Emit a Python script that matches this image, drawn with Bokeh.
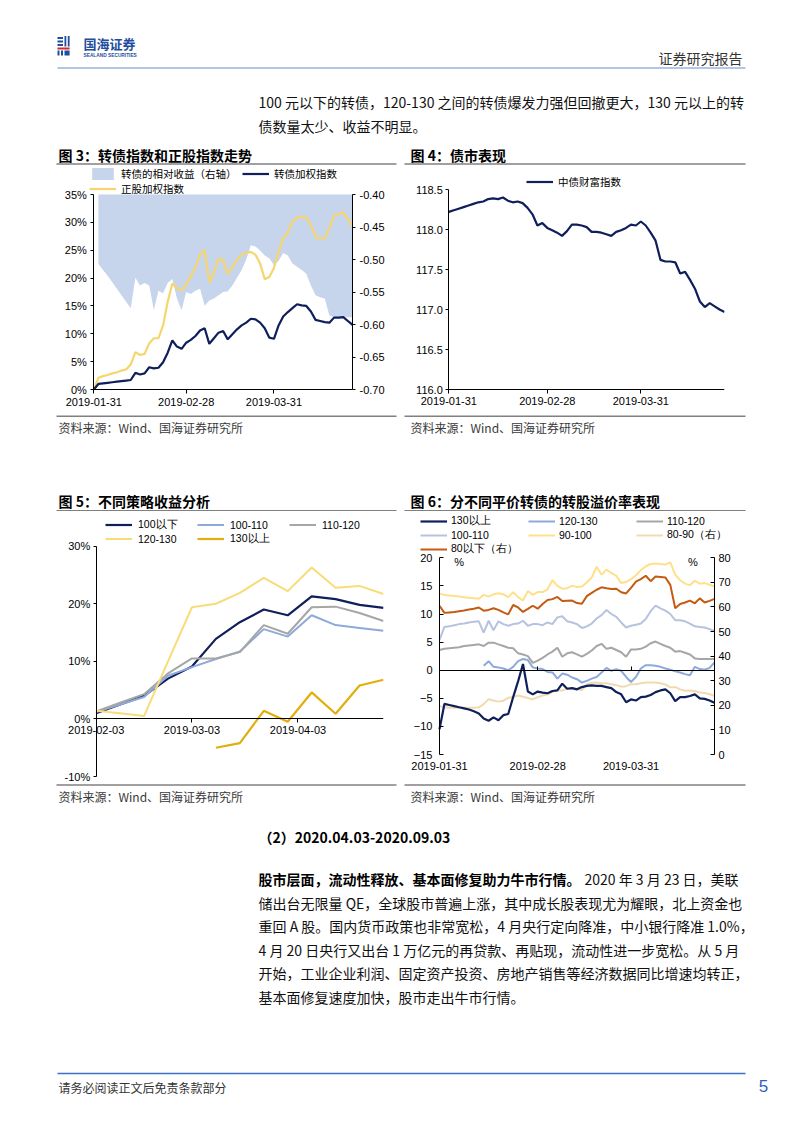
import numpy as np
import pandas as pd
from bokeh.plotting import figure
from bokeh.layouts import column, row
from bokeh.models import (Range1d, LinearAxis, FixedTicker, PrintfTickFormatter,
                          NumeralTickFormatter, Legend, LegendItem, Label,
                          DatetimeTickFormatter)
from bokeh.embed import file_html
from bokeh.resources import INLINE
from bokeh.core.properties import value

NAN = float("nan")

# ---------------- data: daily charts (fig 3, 4, 6) ----------------
n_days = 57
day_tick_index = [0, 20, 39]
day_tick_labels = ["2019-01-31", "2019-02-28", "2019-03-31"]

# fig 3 (%), relative return (right axis, from day 1)
cb_index = [0.0, 1.0, 1.1, 1.2, 1.3, 1.4, 1.5, 1.6, 1.7, 3.0, 2.7, 2.9, 4.0, 3.8, 3.9, 4.9,
            6.6, 8.8, 7.7, 7.3, 8.4, 8.9, 9.6, 10.6, 11.0, 8.2, 9.2, 10.2, 10.5, 9.0, 9.9,
            10.8, 11.5, 12.0, 12.7, 12.6, 12.0, 11.0, 9.3, 9.1, 11.5, 13.1, 13.9, 14.6, 15.3,
            15.1, 15.0, 14.0, 12.5, 12.3, 12.1, 12.0, 12.9, 12.9, 13.0, 12.3, 11.6]
stock_index = [0.0, 2.1, 2.4, 2.6, 2.9, 3.1, 3.4, 3.6, 4.5, 6.7, 6.2, 6.4, 8.3, 9.2, 9.2, 11.5,
               15.8, 19.0, 18.2, 17.8, 18.8, 20.3, 22.0, 24.2, 25.1, 19.2, 21.0, 23.5, 23.2,
               20.7, 22.0, 23.2, 24.2, 24.5, 24.7, 24.2, 22.6, 19.8, 20.2, 21.8, 24.8, 27.2,
               28.2, 30.2, 30.9, 30.9, 30.9, 29.5, 27.4, 27.1, 27.1, 29.0, 31.2, 31.5, 31.8,
               30.6, 29.3]
rel_return = [-0.507, -0.516, -0.525, -0.535, -0.545, -0.555, -0.565, -0.575, -0.528,
              -0.540, -0.536, -0.540, -0.578, -0.548, -0.552, -0.536, -0.530, -0.560, -0.578,
              -0.550, -0.553, -0.548, -0.545, -0.571, -0.563, -0.560, -0.555, -0.550, -0.549,
              -0.540, -0.528, -0.516, -0.500, -0.478, -0.480, -0.486, -0.494, -0.498, -0.509,
              -0.502, -0.490, -0.494, -0.506, -0.511, -0.516, -0.522, -0.540, -0.555, -0.558,
              -0.560, -0.586, -0.589, -0.589, -0.589, -0.589, -0.589]
pct_ticks_3 = [0, 5, 10, 15, 20, 25, 30, 35]
rel_ticks_3 = [-0.70, -0.65, -0.60, -0.55, -0.50, -0.45, -0.40]

# fig 4
bond_wealth = [118.22, 118.24, 118.26, 118.28, 118.30, 118.32, 118.34, 118.35, 118.38, 118.39,
               118.38, 118.40, 118.36, 118.34, 118.35, 118.33, 118.27, 118.19, 118.05, 118.08,
               118.02, 117.99, 117.96, 117.92, 117.98, 118.06, 118.06, 118.05, 118.03, 117.97,
               117.97, 117.96, 117.94, 117.92, 117.97, 117.99, 118.02, 118.06, 118.05, 118.10,
               118.05, 117.96, 117.86, 117.62, 117.60, 117.60, 117.59, 117.45, 117.47, 117.37,
               117.26, 117.10, 117.03, 117.08, 117.04, 117.00, 116.97]
bond_ticks_4 = [116.0, 116.5, 117.0, 117.5, 118.0, 118.5]

# fig 6 (left axis %, right axis % for 80-90 and below 80)
prem_130_above = [-10.5, -6.0, -6.2, -6.4, -6.6, -6.8, -7.0, -7.3, -7.7, -8.6, -9.0, -8.4, -8.9,
                  -8.0, -7.8, -4.8, -2.0, 1.1, -3.8, -4.3, -3.8, -4.0, -4.1, -3.7, -3.6, -2.4,
                  -3.3, -3.2, -3.4, -3.0, -2.8, -2.7, -2.8, -2.8, -3.0, -3.2, -3.9, -4.3, -5.7,
                  -5.2, -5.4, -4.8, -4.7, -4.4, -3.9, -3.6, -3.4, -4.1, -5.5, -4.8, -4.8, -4.6,
                  -4.3, -5.0, -5.1, -5.4, -5.8]
prem_120_130 = [NAN, NAN, NAN, NAN, NAN, NAN, NAN, NAN, NAN, 0.8, 1.6, 0.6, 0.5, 0.3, 0.0, 0.6,
                1.6, 2.0, 1.8, 0.5, 0.3, 0.2, -0.3, -0.4, -1.5, -0.6, -0.8, -1.3, -1.6, -2.2,
                -1.9, -1.5, -1.2, -0.4, 0.4, -0.1, 0.2, -0.1, -1.2, -2.1, -1.2, 0.3, 0.9, 0.9,
                0.8, 0.6, 0.3, 0.1, -0.2, -0.4, -0.7, -0.9, 0.6, 0.2, 0.1, 0.4, 1.4]
prem_110_120 = [3.6, 3.8, 3.9, 4.0, 4.1, 4.3, 4.4, 4.5, 4.6, 4.3, 4.9, 4.9, 4.6, 4.3, 4.0, 3.9,
                3.0, 2.8, 2.5, 1.3, 1.7, 2.2, 2.8, 3.3, 4.0, 2.4, 3.0, 3.2, 2.8, 2.4, 2.9, 3.5,
                4.3, 4.7, 3.8, 4.0, 3.6, 3.2, 2.4, 3.7, 3.7, 3.8, 4.2, 4.8, 5.1, 4.7, 4.3, 4.0,
                3.3, 3.4, 3.1, 2.8, 2.1, 2.0, 2.0, 2.0, 2.0]
prem_100_110 = [5.4, 7.7, 7.8, 8.0, 8.2, 8.3, 8.5, 8.6, 8.7, 6.7, 8.8, 7.1, 8.7, 8.2, 7.9, 8.2,
                8.3, 8.8, 7.9, 8.2, 8.2, 8.0, 8.5, 8.2, 9.4, 9.6, 8.7, 8.5, 8.2, 7.5, 7.8, 8.3,
                9.2, 9.8, 10.7, 10.0, 9.5, 8.5, 7.6, 7.9, 8.1, 8.3, 9.1, 10.5, 11.5, 11.0, 10.6,
                10.0, 8.9, 8.9, 8.7, 8.3, 7.8, 7.7, 7.6, 7.3, 7.0]
prem_90_100 = [13.6, 13.4, 13.3, 13.2, 13.1, 13.0, 12.9, 12.8, 12.7, 13.4, 13.1, 13.5, 13.7,
               13.5, 13.0, 13.9, 13.0, 12.4, 14.1, 13.4, 13.9, 13.9, 14.4, 16.0, 15.0, 14.5,
               14.6, 15.0, 14.8, 14.9, 15.6, 16.5, 18.4, 17.0, 17.9, 17.3, 16.8, 15.5, 15.7,
               16.2, 16.9, 17.8, 18.5, 18.9, 19.0, 18.9, 18.8, 19.2, 17.0, 16.0, 15.4, 15.1,
               15.9, 15.4, 15.5, 15.2, 14.9]
prem_80_90_r = [19.7, 19.2, 19.0, 19.0, 19.0, 19.0, 19.0, 19.0, 19.2, 20.5, 22.5, 22.0, 21.5,
                21.9, 23.0, 23.5, 24.0, 23.5, 23.0, 22.4, 23.3, 24.0, 24.5, 25.5, 26.1, 26.0,
                26.8, 27.0, 26.5, 26.2, 28.5, 29.2, 29.3, 29.0, 29.0, 28.6, 28.2, 27.6, 27.8,
                28.6, 28.6, 29.0, 29.3, 29.3, 29.3, 29.0, 28.5, 27.3, 27.5, 26.5, 25.9, 26.0,
                25.8, 25.2, 25.0, 24.5, 23.8]
prem_80_below_r = [60.5, 57.6, 57.8, 58.0, 58.3, 58.6, 59.0, 59.3, 59.8, 58.5, 58.8, 59.5, 58.8,
                   57.8, 57.0, 60.8, 59.8, 58.0, 59.2, 60.5, 59.3, 61.2, 62.8, 63.2, 64.1, 62.4,
                   62.5, 62.6, 61.6, 61.3, 64.4, 65.7, 67.0, 68.0, 67.6, 67.3, 67.4, 66.0, 65.5,
                   67.8, 70.3, 71.3, 72.7, 70.5, 72.4, 72.2, 72.0, 69.0, 59.5, 61.2, 61.8, 62.6,
                   61.5, 63.5, 61.8, 62.5, 63.3]
left_ticks_6 = [-15, -10, -5, 0, 5, 10, 15, 20]
right_ticks_6 = [0, 10, 20, 30, 40, 50, 60, 70, 80]

# ---------------- data: weekly chart (fig 5) ----------------
week_dates = ["2019-02-03", "2019-02-10", "2019-02-17", "2019-02-24", "2019-03-03",
              "2019-03-10", "2019-03-17", "2019-03-24", "2019-03-31", "2019-04-07",
              "2019-04-14", "2019-04-21", "2019-04-28"]
week_tick_labels = ["2019-02-03", "2019-03-03", "2019-04-03"]
ret_100_below = [1.0, 2.5, 4.0, 7.0, 9.1, 13.9, 16.8, 19.0, 18.0, 21.3, 20.8, 19.8, 19.3]
ret_100_110 = [1.2, 2.5, 3.8, 7.5, 9.0, 10.4, 11.7, 15.6, 14.3, 18.0, 16.3, 15.8, 15.3]
ret_110_120 = [1.3, 2.8, 4.3, 7.9, 10.5, 10.5, 11.6, 16.3, 14.8, 19.4, 19.5, 18.4, 17.0]
ret_120_130 = [1.4, 1.0, 0.5, 10.0, 19.4, 20.0, 21.9, 24.5, 22.2, 26.3, 22.8, 23.1, 21.7]
ret_130_above = [NAN, NAN, NAN, NAN, NAN, -5.0, -4.2, 1.4, -0.5, 4.6, 0.9, 5.8, 6.8]
pct_ticks_5 = [-10, 0, 10, 20, 30]

# ---------------- style ----------------
CJK = "Noto Sans CJK SC"
LAT = "Liberation Sans"
TXT = "#111111"
SRC = "#3a3a3a"
RULE = "#808080"
NAVY = "#0E1F5B"
AREA = "#C6D4EC"
GOLD_L = "#F5D66E"
BLUE_M = "#8EA9DB"
GRAY = "#A6A6A6"
YEL_P = "#F8DC78"
GOLD_D = "#E3AE0C"
BLUE_P = "#B6C3DE"
YEL_90 = "#FFE08A"
TAN = "#F2DAB0"
ORANGE = "#C55A11"
LOGO_BLUE = "#1F4E9C"
LOGO_RED = "#D7262C"

PAGE_W = 802
ROW_B = (165, 414)   # page y of the fig 3/4 row
ROW_D = (511, 783)   # page y of the fig 5/6 row


def lin(v0, p0, v1, p1, q):
    """value at pixel q for an axis where value v0 sits at pixel p0 and v1 at p1"""
    return v0 + (q - p0) * (v1 - v0) / (p1 - p0)


def band(top, bottom):
    return figure(width=PAGE_W, height=bottom - top, x_range=Range1d(0, PAGE_W),
                  y_range=Range1d(bottom, top), x_axis_type=None, y_axis_type=None,
                  min_border=0, toolbar_location=None, output_backend="svg",
                  outline_line_color=None)


def put(p, x, y, s, size, bold=False, color=TXT, font=CJK, align="left"):
    p.text(x=[x], y=[y], text=[s], text_font=value(font), text_font_size=size,
           text_font_style="bold" if bold else "normal", text_color=color,
           text_align=align, text_baseline="middle")


def rule(p, x0, x1, y, color=RULE, w=1.5):
    p.segment(x0=[x0], y0=[y], x1=[x1], y1=[y], line_color=color, line_width=w)


def chart(w, h, xr, yr, left, right, xtype="linear"):
    p = figure(width=w, height=h, x_range=xr, y_range=yr, x_axis_type=xtype,
               min_border_left=left, min_border_right=right, min_border_top=0,
               min_border_bottom=0, toolbar_location=None, output_backend="svg",
               outline_line_color=None)
    p.xgrid.visible = False
    p.ygrid.visible = False
    return p


def style_axis(ax, tick_in=0, tick_out=4, standoff=4, size="11px"):
    ax.major_label_text_font = LAT
    ax.major_label_text_font_size = size
    ax.major_label_text_color = "#000000"
    ax.axis_line_color = "#000000"
    ax.axis_line_width = 1
    ax.major_tick_line_color = "#000000"
    ax.major_tick_in = tick_in
    ax.major_tick_out = tick_out
    ax.minor_tick_line_color = None
    ax.major_label_standoff = standoff


def make_legend(items, loc, ncols, font, size, gw, lw, lh, spacing, standoff):
    return Legend(items=items, location=loc, orientation="horizontal", ncols=ncols,
                  label_text_font=font, label_text_font_size=size, label_text_color="#000000",
                  glyph_width=gw, glyph_height=lh, label_width=lw, label_height=lh,
                  label_standoff=standoff, spacing=spacing, padding=0, margin=0,
                  border_line_color=None, background_fill_alpha=0)


day_idx = list(range(n_days))

# ================= band A: header, paragraph, titles 3/4 =================
bA = band(0, ROW_B[0])
bA.quad(left=[57, 57, 57], right=[62.5, 62.5, 62.5], top=[36.5, 40, 43.5],
        bottom=[38.5, 42, 45.5], fill_color=LOGO_BLUE, line_color=None)
bA.quad(left=[64, 67.3], right=[65.8, 69.1], top=[35.5, 35.5], bottom=[46, 46],
        fill_color=LOGO_BLUE, line_color=None)
bA.quad(left=[57], right=[69.1], top=[47], bottom=[49], fill_color=LOGO_RED, line_color=None)
bA.quad(left=[57, 60.5, 64], right=[59, 62.5, 69.1], top=[50, 50, 50], bottom=[55, 55, 55],
        fill_color=LOGO_BLUE, line_color=None)
put(bA, 83, 43, "国海证券", "13px", bold=True, color=LOGO_BLUE)
put(bA, 83, 54.5, "SEALAND SECURITIES", "4.8px", bold=True, color=LOGO_BLUE, font=LAT)
put(bA, 742, 57, "证券研究报告", "14px", color="#333333", align="right")
rule(bA, 57, 745, 67.5, color="#B4C6E7", w=2)
put(bA, 258, 101, "100 元以下的转债，120-130 之间的转债爆发力强但回撤更大，130 元以上的转", "14px")
put(bA, 258, 125, "债数量太少、收益不明显。", "14px")
put(bA, 58, 154, "图 3：转债指数和正股指数走势", "14px", bold=True, color="#000000")
put(bA, 410, 154, "图 4：债市表现", "14px", bold=True, color="#000000")
rule(bA, 56, 396, 163.5)
rule(bA, 404, 745, 163.5)

# ================= fig 3 (page x 0-400) =================
F3 = dict(l=58, r=352, t=ROW_B[0], b=ROW_B[1])
p3 = chart(400, ROW_B[1] - ROW_B[0],
           Range1d(lin(0, 93.3, n_days - 1, 352, F3["l"]), lin(0, 93.3, n_days - 1, 352, F3["r"])),
           Range1d(lin(0, 389, 35, 194, F3["b"]), lin(0, 389, 35, 194, F3["t"])),
           F3["l"], 400 - F3["r"])
p3.extra_y_ranges = {"rel": Range1d(lin(-0.70, 389, -0.40, 194, F3["b"]),
                                    lin(-0.70, 389, -0.40, 194, F3["t"]))}
r_area = p3.varea(x=day_idx[1:], y1=rel_return, y2=rel_ticks_3[-1], fill_color=AREA,
                  y_range_name="rel")
r_stock = p3.line(day_idx, stock_index, line_color=GOLD_L, line_width=2.2)
r_cb = p3.line(day_idx, cb_index, line_color=NAVY, line_width=2.2)
p3.xaxis.fixed_location = pct_ticks_3[0]
p3.xaxis.ticker = FixedTicker(ticks=day_tick_index)
p3.xaxis.major_label_overrides = dict(zip(day_tick_index, day_tick_labels))
p3.xaxis.bounds = (0, n_days - 1)
style_axis(p3.xaxis[0], tick_out=4, standoff=4)
p3.yaxis.fixed_location = 0
p3.yaxis.ticker = FixedTicker(ticks=pct_ticks_3)
p3.yaxis.formatter = PrintfTickFormatter(format="%d%%")
p3.yaxis.bounds = (pct_ticks_3[0], pct_ticks_3[-1])
style_axis(p3.yaxis[0], tick_out=3, standoff=4)
ax3r = LinearAxis(y_range_name="rel", ticker=FixedTicker(ticks=rel_ticks_3),
                  formatter=NumeralTickFormatter(format="0.00"),
                  bounds=(rel_ticks_3[0], rel_ticks_3[-1]))
style_axis(ax3r, tick_out=3, standoff=4)
p3.add_layout(ax3r, "right")
p3.add_layout(make_legend([LegendItem(label="转债的相对收益（右轴）", renderers=[r_area]),
                           LegendItem(label="转债加权指数", renderers=[r_cb]),
                           LegendItem(label="正股加权指数", renderers=[r_stock])],
                          (89 - F3["l"], F3["b"] - 196), 2, CJK, "10.5px", 27, 121, 15, 0, 5))

# ================= fig 4 (page x 400-802) =================
F4 = dict(l=405, r=724, t=ROW_B[0], b=ROW_B[1])
p4 = chart(402, ROW_B[1] - ROW_B[0],
           Range1d(lin(0, 448.3, n_days - 1, 724, F4["l"]), lin(0, 448.3, n_days - 1, 724, F4["r"])),
           Range1d(lin(116.0, 389, 118.5, 189, F4["b"]), lin(116.0, 389, 118.5, 189, F4["t"])),
           F4["l"] - 400, PAGE_W - F4["r"])
r_bw = p4.line(day_idx, bond_wealth, line_color=NAVY, line_width=2.2)
p4.xaxis.fixed_location = bond_ticks_4[0]
p4.xaxis.bounds = (0, n_days - 1)
p4.xaxis.ticker = FixedTicker(ticks=day_tick_index)
p4.xaxis.major_label_overrides = dict(zip(day_tick_index, day_tick_labels))
style_axis(p4.xaxis[0], tick_out=4, standoff=3)
p4.yaxis.fixed_location = 0
p4.yaxis.ticker = FixedTicker(ticks=bond_ticks_4)
p4.yaxis.formatter = NumeralTickFormatter(format="0.0")
p4.yaxis.bounds = (bond_ticks_4[0], bond_ticks_4[-1])
style_axis(p4.yaxis[0], tick_out=3, standoff=3)
p4.add_layout(make_legend([LegendItem(label="中债财富指数", renderers=[r_bw])],
                          (526 - F4["l"], F4["b"] - 188.5), 1, CJK, "10.5px", 27, 60, 15, 0, 5))

# ================= band C: sources 3/4, titles 5/6 =================
bC = band(ROW_B[1], ROW_D[0])
rule(bC, 56, 396, 415.8)
rule(bC, 404, 745, 415.8)
put(bC, 58, 426.5, "资料来源：Wind、国海证券研究所", "12px", color=SRC)
put(bC, 410, 426.5, "资料来源：Wind、国海证券研究所", "12px", color=SRC)
put(bC, 58, 500.5, "图 5：不同策略收益分析", "14px", bold=True, color="#000000")
put(bC, 410, 500.5, "图 6：分不同平价转债的转股溢价率表现", "14px", bold=True, color="#000000")
rule(bC, 56, 396, 510.2)
rule(bC, 404, 745, 510.2)

# ================= fig 5 (page x 0-400) =================
F5 = dict(l=58, r=383.3, t=ROW_D[0], b=ROW_D[1])
t_first = pd.Timestamp(week_dates[0]).value / 1e6
t_last = pd.Timestamp(week_dates[-1]).value / 1e6
wk = list(pd.to_datetime(week_dates))
p5 = chart(400, ROW_D[1] - ROW_D[0],
           Range1d(lin(t_first, 95.7, t_last, 383.3, F5["l"]), lin(t_first, 95.7, t_last, 383.3, F5["r"])),
           Range1d(lin(-10, 776, 30, 545.7, F5["b"]), lin(-10, 776, 30, 545.7, F5["t"])),
           F5["l"], round(400 - F5["r"]), xtype="datetime")
r5a = p5.line(wk, ret_100_below, line_color=NAVY, line_width=2.2)
r5b = p5.line(wk, ret_100_110, line_color=BLUE_M, line_width=2)
r5c = p5.line(wk, ret_110_120, line_color=GRAY, line_width=2)
r5d = p5.line(wk, ret_120_130, line_color=YEL_P, line_width=2)
r5e = p5.line(wk, np.array(ret_130_above, dtype=float), line_color=GOLD_D, line_width=2.2)
p5.xaxis.fixed_location = 0
p5.xaxis.bounds = (t_first, t_last)
p5.xaxis.ticker = FixedTicker(ticks=[pd.Timestamp(s).value / 1e6 for s in week_tick_labels])
p5.xaxis.formatter = DatetimeTickFormatter(days="%Y-%m-%d", months="%Y-%m-%d", years="%Y-%m-%d")
style_axis(p5.xaxis[0], tick_out=4, standoff=3)
p5.yaxis.fixed_location = t_first
p5.yaxis.bounds = (pct_ticks_5[0], pct_ticks_5[-1])
p5.yaxis.ticker = FixedTicker(ticks=pct_ticks_5)
p5.yaxis.formatter = PrintfTickFormatter(format="%d%%")
style_axis(p5.yaxis[0], tick_out=3, standoff=3)
p5.add_layout(make_legend([LegendItem(label="100以下", renderers=[r5a]),
                           LegendItem(label="100-110", renderers=[r5b]),
                           LegendItem(label="110-120", renderers=[r5c]),
                           LegendItem(label="120-130", renderers=[r5d]),
                           LegendItem(label="130以上", renderers=[r5e])],
                          (105 - F5["l"], F5["b"] - 545.5), 3, LAT, "10.5px", 27, 59, 13, 0, 6))

# ================= fig 6 (page x 400-802) =================
F6 = dict(l=405, r=745, t=ROW_D[0], b=ROW_D[1])
p6 = chart(402, ROW_D[1] - ROW_D[0],
           Range1d(lin(0, 439, n_days - 1, 714, F6["l"]), lin(0, 439, n_days - 1, 714, F6["r"])),
           Range1d(lin(-15, 754, 20, 557.3, F6["b"]), lin(-15, 754, 20, 557.3, F6["t"])),
           F6["l"] - 400, PAGE_W - F6["r"])
p6.extra_y_ranges = {"r": Range1d(lin(0, 754, 80, 557.3, F6["b"]), lin(0, 754, 80, 557.3, F6["t"]))}
r6f = p6.line(day_idx, prem_80_90_r, line_color=TAN, line_width=2, y_range_name="r")
r6e = p6.line(day_idx, prem_90_100, line_color=YEL_90, line_width=2)
r6g = p6.line(day_idx, prem_80_below_r, line_color=ORANGE, line_width=2, y_range_name="r")
r6d = p6.line(day_idx, prem_100_110, line_color=BLUE_P, line_width=2)
r6c = p6.line(day_idx, prem_110_120, line_color=GRAY, line_width=2)
r6b = p6.line(day_idx, np.array(prem_120_130, dtype=float), line_color=BLUE_M, line_width=2)
r6a = p6.line(day_idx, prem_130_above, line_color=NAVY, line_width=2.2)
# date labels under the plot (axis line hidden)
p6.xaxis.fixed_location = left_ticks_6[0]
p6.xaxis.ticker = FixedTicker(ticks=day_tick_index)
p6.xaxis.major_label_overrides = dict(zip(day_tick_index, day_tick_labels))
style_axis(p6.xaxis[0], tick_out=0, standoff=7)
p6.xaxis.axis_line_color = None
p6.xaxis.major_tick_line_color = None
# zero line with ticks
zero_ax = LinearAxis(fixed_location=0, ticker=FixedTicker(ticks=day_tick_index),
                     bounds=(0, n_days - 1))
style_axis(zero_ax, tick_in=4, tick_out=0, standoff=0)
zero_ax.major_label_text_color = None
zero_ax.major_label_text_font_size = "0px"
p6.add_layout(zero_ax, "below")
p6.yaxis.fixed_location = 0
p6.yaxis.bounds = (left_ticks_6[0], left_ticks_6[-1])
p6.yaxis.ticker = FixedTicker(ticks=left_ticks_6)
style_axis(p6.yaxis[0], tick_in=4, tick_out=0, standoff=7)
ax6r = LinearAxis(y_range_name="r", fixed_location=n_days - 1, ticker=FixedTicker(ticks=right_ticks_6),
                  bounds=(right_ticks_6[0], right_ticks_6[-1]))
style_axis(ax6r, tick_in=4, tick_out=0, standoff=4)
p6.add_layout(ax6r, "right")
p6.add_layout(Label(x=4, y=19.3, text="%", text_font=LAT, text_font_size="11px",
                    text_align="center", text_baseline="middle", text_color="#000000"))
p6.add_layout(Label(x=51.6, y=19.3, text="%", text_font=LAT, text_font_size="11px",
                    text_align="center", text_baseline="middle", text_color="#000000"))
p6.add_layout(make_legend([LegendItem(label="130以上", renderers=[r6a]),
                           LegendItem(label="120-130", renderers=[r6b]),
                           LegendItem(label="110-120", renderers=[r6c]),
                           LegendItem(label="100-110", renderers=[r6d]),
                           LegendItem(label="90-100", renderers=[r6e]),
                           LegendItem(label="80-90（右）", renderers=[r6f]),
                           LegendItem(label="80以下（右）", renderers=[r6g])],
                          (420 - F6["l"], F6["b"] - 555.5), 3, LAT, "10.5px", 27, 77, 12, 0, 4))

# ================= band E: sources 5/6, section text, footer =================
bE = band(ROW_D[1], 1133)
rule(bE, 56, 396, 784.6)
rule(bE, 404, 745, 784.6)
put(bE, 58, 795.5, "资料来源：Wind、国海证券研究所", "12px", color=SRC)
put(bE, 410, 795.5, "资料来源：Wind、国海证券研究所", "12px", color=SRC)
put(bE, 258, 836, "（2）2020.04.03-2020.09.03", "14px", bold=True, color="#000000")
put(bE, 258, 878, "股市层面，流动性释放、基本面修复助力牛市行情。", "14px", bold=True, color="#000000")
put(bE, 584, 878, "2020 年 3 月 23 日，美联", "14px")
put(bE, 258, 902, "储出台无限量 QE，全球股市普遍上涨，其中成长股表现尤为耀眼，北上资金也", "14px")
put(bE, 258, 925, "重回 A 股。国内货币政策也非常宽松，4 月央行定向降准，中小银行降准 1.0%，", "14px")
put(bE, 258, 949, "4 月 20 日央行又出台 1 万亿元的再贷款、再贴现，流动性进一步宽松。从 5 月", "14px")
put(bE, 258, 972, "开始，工业企业利润、固定资产投资、房地产销售等经济数据同比增速均转正，", "14px")
put(bE, 258, 996, "基本面修复速度加快，股市走出牛市行情。", "14px")
rule(bE, 57, 745, 1073, color="#3A72C8", w=1.5)
put(bE, 58, 1087, "请务必阅读正文后免责条款部分", "12px", color="#333333")
put(bE, 763, 1085, "5", "17px", color="#2E5FBF", font=LAT, align="center")

layout = column(bA, row(p3, p4), bC, row(p5, p6), bE)

with open("out.html", "w") as f:
    f.write(file_html(layout, INLINE))
